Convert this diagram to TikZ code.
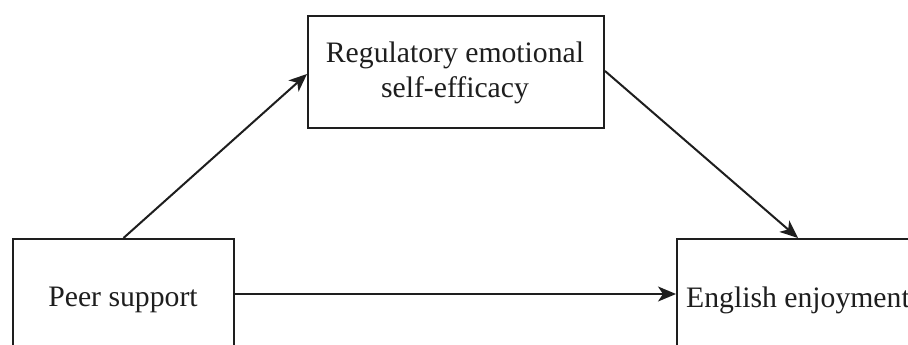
\documentclass[tikz,border=0pt]{standalone}
\usepackage{fontspec}
\setmainfont{Liberation Serif}
\usetikzlibrary{arrows.meta}
\definecolor{ink}{HTML}{1E1E1E}
\begin{document}
\begin{tikzpicture}[x=1pt,y=-1pt,
  box/.style={draw=ink, line width=2pt, rectangle, inner sep=0pt, anchor=north west},
  lbl/.style={text=ink, inner sep=0pt, anchor=base, font=\fontsize{29.7}{34}\selectfont},
  conn/.style={draw=ink, line width=2pt, -{Stealth[length=18pt,width=15pt,inset=5pt]}}]
\useasboundingbox (0,0) rectangle (908,345);
\fill[white] (0,0) rectangle (908,345);
% boxes
\node[box, minimum width=296pt, minimum height=112pt] (reg) at (307,15) {};
\node[box, minimum width=221pt, minimum height=110pt] (ps) at (12,238) {};
\node[box, minimum width=242pt, minimum height=110pt] (ee) at (676,238) {};
% labels
\node[lbl] (t1) at (455,63) {Regulatory emotional};
\node[lbl] (t2) at (455,97) {self-efficacy};
\node[lbl] (t3) at (123,306) {Peer support};
\node[lbl, anchor=base west] (t4) at (686,307) {English enjoyment};
% connectors
\draw[conn] (ps.north) -- ([yshift=-2pt]reg.west);
\draw[conn] ([yshift=1pt]reg.east) -- (ee.north);
\draw[conn] (ps.east) -- (ee.west);
\end{tikzpicture}
\end{document}
